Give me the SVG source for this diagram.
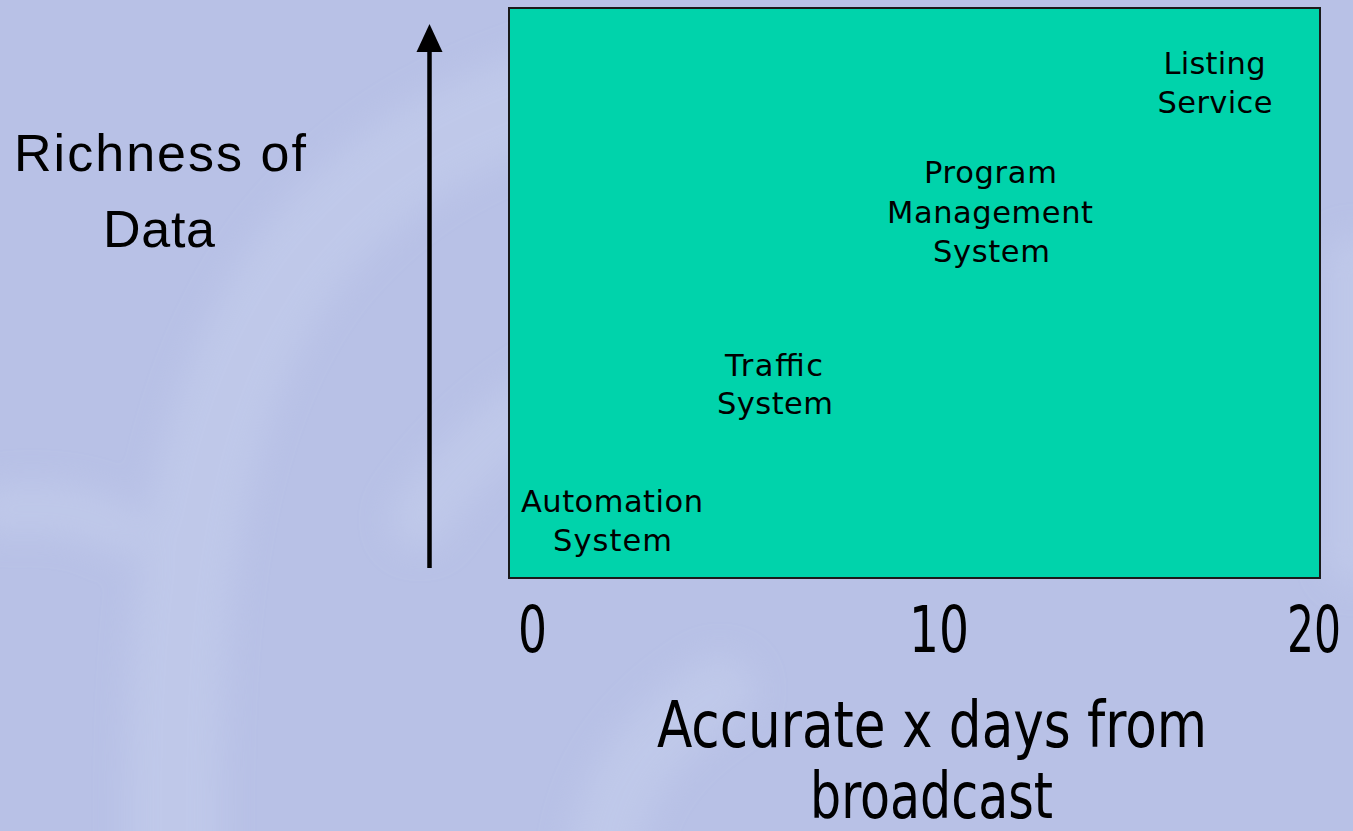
<svg xmlns="http://www.w3.org/2000/svg" width="1353" height="831" viewBox="0 0 1353 831">
  <style>
    .lbl { font-family: "DejaVu Sans", "Liberation Sans", sans-serif; font-size: 30.5px; fill: #000; text-anchor: middle; }
    .big { font-family: "Liberation Sans", "DejaVu Sans", sans-serif; font-size: 52px; fill: #000; text-anchor: middle; }
    .cond { font-family: "Liberation Sans Narrow", "DejaVu Sans Condensed", "Liberation Sans", sans-serif; font-stretch: condensed; font-size: 64px; fill: #000; text-anchor: middle; }
    .band { fill: none; stroke: #c4ceec; stroke-linecap: round; }
  </style>
  <defs>
    <filter id="soft" x="-20%" y="-20%" width="140%" height="140%">
      <feGaussianBlur stdDeviation="16"/>
    </filter>
  </defs>

  <!-- background -->
  <rect x="0" y="0" width="1353" height="831" fill="#b8c1e6"/>
  <g id="watermark" filter="url(#soft)" opacity="0.6">
    <path class="band" stroke-width="95" d="M175,900 C170,650 180,420 300,260 C380,160 470,120 560,90"/>
    <path class="band" stroke-width="60" d="M420,520 C480,430 560,380 640,350"/>
    <path class="band" stroke-width="70" d="M600,900 C600,800 640,740 720,690"/>
    <path class="band" stroke-width="50" d="M0,510 C50,505 90,510 120,530"/>
    <path class="band" stroke-width="50" d="M1353,260 L1353,560"/>
  </g>

  <!-- chart area -->
  <g id="chart-box">
    <rect x="509" y="8" width="811" height="570" fill="#00d3ab" stroke="#1a1a1a" stroke-width="2"/>
  </g>

  <!-- y-axis arrow -->
  <g id="connectors">
    <line x1="429.5" y1="568" x2="429.5" y2="50" stroke="#000" stroke-width="4.5"/>
    <polygon points="429.5,24 416.5,52 442.5,52" fill="#000"/>
  </g>

  <g id="y-axis-label">
    <text class="big" x="160" y="171" textLength="292" lengthAdjust="spacing">Richness of</text>
    <text class="big" x="159" y="247" textLength="112" lengthAdjust="spacing">Data</text>
  </g>

  <g id="node-listing">
    <text class="lbl" x="1214.5" y="74" textLength="102" lengthAdjust="spacing">Listing</text>
    <text class="lbl" x="1215" y="113" textLength="115" lengthAdjust="spacing">Service</text>
  </g>

  <g id="node-program">
    <text class="lbl" x="990.5" y="183" textLength="133" lengthAdjust="spacing">Program</text>
    <text class="lbl" x="990" y="223" textLength="206" lengthAdjust="spacing">Management</text>
    <text class="lbl" x="991.5" y="262" textLength="117" lengthAdjust="spacing">System</text>
  </g>

  <g id="node-traffic">
    <text class="lbl" x="774" y="376" textLength="98" lengthAdjust="spacing">Traffic</text>
    <text class="lbl" x="775" y="414" textLength="116" lengthAdjust="spacing">System</text>
  </g>

  <g id="node-automation">
    <text class="lbl" x="612" y="512" textLength="182" lengthAdjust="spacing">Automation</text>
    <text class="lbl" x="612.5" y="551" textLength="119" lengthAdjust="spacing">System</text>
  </g>

  <g id="x-axis-ticks">
    <text class="cond" x="532.5" y="652" textLength="29" lengthAdjust="spacingAndGlyphs">0</text>
    <text class="cond" x="939" y="652" textLength="60" lengthAdjust="spacingAndGlyphs">10</text>
    <text class="cond" x="1341" y="652" textLength="54" lengthAdjust="spacingAndGlyphs" style="text-anchor:end">20</text>
  </g>

  <g id="x-axis-label">
    <text class="cond" x="932" y="747" textLength="550" lengthAdjust="spacingAndGlyphs">Accurate x days from</text>
    <text class="cond" x="931.5" y="818" textLength="243" lengthAdjust="spacingAndGlyphs">broadcast</text>
  </g>
</svg>
